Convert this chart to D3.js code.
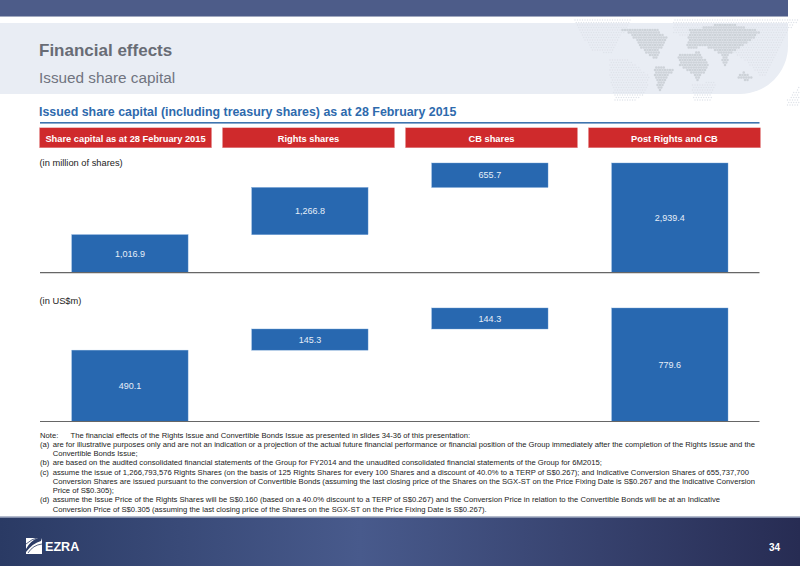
<!DOCTYPE html>
<html>
<head>
<meta charset="utf-8">
<script src="https://cdn.jsdelivr.net/npm/d3@7"></script>
<style>
  html, body { margin: 0; padding: 0; background: #fff; }
  svg { display: block; }
  text { font-family: "Liberation Sans", Arial, sans-serif; }
</style>
</head>
<body>
<div id="chart"></div>
<script>
// Chart data
const categories = ['Share capital as at 28 February 2015', 'Rights shares', 'CB shares', 'Post Rights and CB'];
const sharesValues = [1016.9, 1266.8, 655.7, 2939.4];
const usdValues = [490.1, 145.3, 144.3, 779.6];
const isTotal = [false, false, false, true];

const noteLabels = ['Note:', '(a)', '', '(b)', '(c)', '', '', '(d)', ''];
const noteLines = [
    'The financial effects of the Rights Issue and Convertible Bonds Issue as presented in slides 34-36 of this presentation:',
    'are for illustrative purposes only and are not an indication or a projection of the actual future financial performance or financial position of the Group immediately after the completion of the Rights Issue and the',
    'Convertible Bonds Issue;',
    'are based on the audited consolidated financial statements of the Group for FY2014 and the unaudited consolidated financial statements of the Group for 6M2015;',
    'assume the issue of 1,266,793,576 Rights Shares (on the basis of 125 Rights Shares for every 100 Shares and a discount of 40.0% to a TERP of S$0.267); and Indicative Conversion Shares of 655,737,700',
    'Conversion Shares are issued pursuant to the conversion of Convertible Bonds (assuming the last closing price of the Shares on the SGX-ST on the Price Fixing Date is S$0.267 and the Indicative Conversion',
    'Price of S$0.305);',
    'assume the Issue Price of the Rights Shares will be S$0.160 (based on a 40.0% discount to a TERP of S$0.267) and the Conversion Price in relation to the Convertible Bonds will be at an Indicative',
    'Conversion Price of S$0.305 (assuming the last closing price of the Shares on the SGX-ST on the Price Fixing Date is S$0.267).'
];

const width = 800;
const height = 566;

const svg = d3.select('#chart')
    .append('svg')
    .attr('width', width)
    .attr('height', height);

const defs = svg.append('defs');

const footGrad = defs.append('linearGradient').attr('id', 'footGrad');
footGrad.append('stop').attr('offset', '0%').attr('stop-color', '#2a3a64');
footGrad.append('stop').attr('offset', '45%').attr('stop-color', '#485a8c');
footGrad.append('stop').attr('offset', '100%').attr('stop-color', '#272c53');

// Top band and header panel
svg.append('rect').attr('width', 788).attr('height', 16).attr('fill', '#4d5c89');
svg.append('rect').attr('y', 16).attr('width', 788).attr('height', 0.8).attr('fill', '#8a94b0');
svg.append('path')
    .attr('d', 'M0,23H788V46A48,48 0 0 1 740,94H0Z')
    .attr('fill', '#e9edf4');

// Dotted world map behind the header (rough outlines, decoration only)
const land = [
    [[185,60],[290,58],[325,85],[300,120],[290,150],[270,140],[240,110],[215,75]],
    [[285,165],[340,180],[310,225],[297,250],[285,200]],
    [[355,135],[420,125],[445,165],[415,215],[395,190],[360,165]],
    [[390,60],[500,38],[605,65],[560,100],[510,130],[495,175],[480,130],[440,110],[380,115]],
    [[530,200],[555,185],[580,205],[560,215]]
];
const sea = [
    [[40,30],[215,30],[190,70],[160,130],[100,125],[60,70]],
    [[150,150],[210,150],[270,200],[260,245],[225,275],[165,270],[150,200]],
    [[340,28],[720,28],[690,60],[660,120],[620,200],[600,195],[540,140],[450,100],[340,70]],
    [[395,225],[470,210],[450,275],[400,275]],
    [[680,270],[720,225],[720,290],[680,290]]
];
const mapX = d3.scaleLinear().domain([0, 720]).range([560, 800]);
const mapY = d3.scaleLinear().domain([0, 300]).range([10, 110]);
const mapDots = svg.append('g');
for (let row = 0; row < 40; row++) {
    for (let col = 0; col < 96; col++) {
        const px = col * 7.5 + (row % 2 ? 3.75 : 0);
        const py = row * 7.5;
        if (land.some(p => d3.polygonContains(p, [px, py]))) {
            mapDots.append('circle').attr('cx', mapX(px)).attr('cy', mapY(py))
                .attr('r', 1.25).attr('fill', '#cdd2d8');
        } else if (sea.some(p => d3.polygonContains(p, [px, py]))) {
            mapDots.append('circle').attr('cx', mapX(px)).attr('cy', mapY(py))
                .attr('r', 0.7).attr('fill', '#dde1e8');
        }
    }
}

svg.append('text').attr('x', 39).attr('y', 56)
    .style('font-size', '17px').style('font-weight', 'bold').style('fill', '#686c75')
    .text('Financial effects');
svg.append('text').attr('x', 39).attr('y', 83)
    .style('font-size', '15.3px').style('fill', '#707480')
    .text('Issued share capital');

svg.append('text').attr('x', 39).attr('y', 115.7)
    .style('font-size', '12.4px').style('font-weight', 'bold').style('fill', '#2e6aad')
    .text('Issued share capital (including treasury shares) as at 28 February 2015');
svg.append('rect').attr('x', 40).attr('y', 122).attr('width', 719.5).attr('height', 1.6).attr('fill', '#3f74ae');

// Columns for the red headers
const x = d3.scaleBand()
    .domain(categories)
    .range([39.5, 760.5])
    .paddingInner(0.0595)
    .paddingOuter(0);

// Columns for the bars, narrower and not centred under the headers
const xBar = d3.scaleBand()
    .domain(categories)
    .range([71.8, 728])
    .paddingInner(0.354)
    .paddingOuter(0);

// Red header boxes
categories.forEach(c => {
    svg.append('rect')
        .attr('x', x(c)).attr('y', 127.8)
        .attr('width', x.bandwidth()).attr('height', 20)
        .attr('fill', '#cf2a2c')
        .attr('stroke', '#e8a0a0').attr('stroke-width', 0.4);
    svg.append('text')
        .attr('x', x(c) + x.bandwidth() / 2).attr('y', 141.5)
        .attr('text-anchor', 'middle')
        .style('font-size', '9.3px').style('font-weight', 'bold').style('fill', '#fff')
        .text(c);
});

// Waterfall panel
function drawPanel(values, baseline, top, unitLabel, labelY) {
    const y = d3.scaleLinear()
        .domain([0, d3.max(values)])
        .range([baseline, top]);

    svg.append('text').attr('x', 39.5).attr('y', labelY)
        .style('font-size', '9.3px').style('fill', '#222')
        .text(unitLabel);

    let running = 0;
    values.forEach((v, i) => {
        const start = isTotal[i] ? 0 : running;
        const end = start + v;
        running = end;

        svg.append('rect')
            .attr('x', xBar(categories[i]))
            .attr('y', y(end))
            .attr('width', xBar.bandwidth())
            .attr('height', y(start) - y(end))
            .attr('fill', '#2868b0')
            .attr('stroke', '#6f9fd4').attr('stroke-width', 0.4);

        svg.append('text')
            .attr('x', xBar(categories[i]) + xBar.bandwidth() / 2)
            .attr('y', (y(start) + y(end)) / 2 + 3.2)
            .attr('text-anchor', 'middle')
            .style('font-size', '9px').style('fill', '#e6eef8')
            .text(d3.format(',.1f')(v));
    });

    svg.append('line')
        .attr('x1', 40).attr('x2', 759.5)
        .attr('y1', baseline).attr('y2', baseline)
        .attr('stroke', '#666').attr('stroke-width', 1.2);
}

drawPanel(sharesValues, 272.6, 163, '(in million of shares)', 165.5);
drawPanel(usdValues, 421.5, 308, '(in US$m)', 304);

// Notes. Right edge of each justified row, null leaves the row as set.
const noteEnds = [null, 755, null, null, 749, 755, null, 720, null];
noteLines.forEach((line, i) => {
    const rowY = 437.7 + i * 9.25;
    svg.append('text').attr('x', 40).attr('y', rowY)
        .style('font-size', '7.65px').style('fill', '#222')
        .text(noteLabels[i]);
    const startX = i === 0 ? 70.5 : 52.7;
    const t = svg.append('text')
        .attr('x', startX).attr('y', rowY)
        .style('font-size', '7.65px').style('fill', '#222')
        .text(line);
    if (noteEnds[i]) t.attr('textLength', noteEnds[i] - startX).attr('lengthAdjust', 'spacing');
});

// Footer
svg.append('rect').attr('y', 517).attr('width', width).attr('height', 49).attr('fill', 'url(#footGrad)');
svg.append('rect').attr('y', 516.4).attr('width', width).attr('height', 1.6).attr('fill', '#8590ad');

// Logo: white square with dark swooshes cut through it
svg.append('path').attr('d', 'M26,538H42L41,541Q33,543 26,552V554H42V538Z M26,538V549Q30,541 38,538Z').attr('fill', '#fff');
svg.append('path').attr('d', 'M26,544Q31,539 40,537').attr('fill', 'none').attr('stroke', '#2c3c66').attr('stroke-width', 0.8);
svg.append('path').attr('d', 'M28,553Q33,545 42,544').attr('fill', 'none').attr('stroke', '#2c3c66').attr('stroke-width', 0.8);
svg.append('text').attr('x', 45).attr('y', 551)
    .style('font-size', '12.6px').style('font-weight', 'bold').style('fill', '#fff')
    .text('EZRA');
svg.append('text').attr('x', 769).attr('y', 550.5)
    .style('font-size', '10px').style('font-weight', 'bold').style('fill', '#fff')
    .text('34');
</script>
</body>
</html>
